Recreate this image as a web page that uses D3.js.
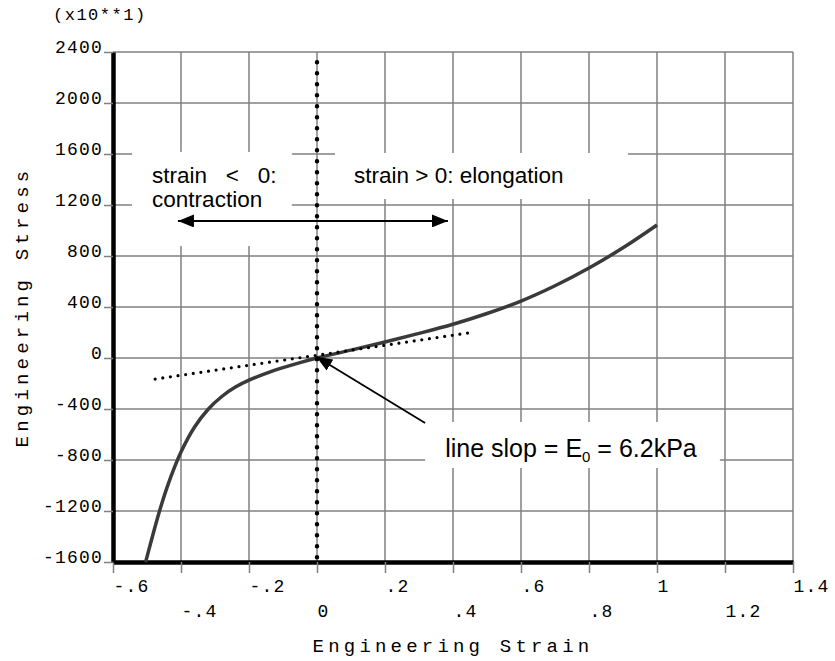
<!DOCTYPE html>
<html>
<head>
<meta charset="utf-8">
<script src="https://cdn.jsdelivr.net/npm/d3@7"></script>
<style>
body { margin: 0; background: #fff; }
</style>
</head>
<body>
<div id="chartDiv"></div>
<script>
"use strict";

// svg element parameters
var svgWidth = 835;
var svgHeight = 661;
var margin = {top: 52, right: 42, bottom: 99, left: 113};

var monoFont = "'Liberation Mono', 'Courier New', monospace";
var sansFont = "'Liberation Sans', Arial, sans-serif";

// stress-strain curve (stress in units of x10**1)
var strain = [-0.504, -0.49, -0.46, -0.43, -0.40, -0.36, -0.32, -0.28, -0.24, -0.20, -0.15, -0.10, -0.05, 0,
              0.1, 0.2, 0.3, 0.4, 0.5, 0.6, 0.7, 0.8, 0.9, 1.0];
var stress = [-1600, -1459, -1172, -933, -737, -541, -402, -302, -228, -174, -121, -76, -36, 0,
              62, 126, 193, 265, 349, 447, 567, 706, 864, 1043];

// dotted tangent at the origin (slope E0)
var tangentStrain = [-0.476, 0.444];
var tangentStress = [-165, 196];

// axis ticks
var xTicks = [-0.6, -0.4, -0.2, 0, 0.2, 0.4, 0.6, 0.8, 1.0, 1.2, 1.4];
var xTickLabels = ["-.6", "-.4", "-.2", "0", ".2", ".4", ".6", ".8", "1", "1.2", "1.4"];
var yTicks = [-1600, -1200, -800, -400, 0, 400, 800, 1200, 1600, 2000, 2400];
var yTickLabels = ["-1600", "-1200", "-800", "-400", "0", "400", "800", "1200", "1600", "2000", "2400"];

var svg, x, y;

svg = d3.select("#chartDiv").append("svg").attr("id", "chartSvg").attr("width", svgWidth).attr("height", svgHeight);

x = d3.scaleLinear().domain([-0.6, 1.4]).range([margin.left, svgWidth - margin.right]);
y = d3.scaleLinear().domain([-1600, 2400]).range([svgHeight - margin.bottom, margin.top]);

drawGrid();
drawBoxes();
drawAxes();
drawCurves();
drawArrows();
drawTexts();

function drawGrid() {
    var grid = svg.append("g").attr("class", "grid").attr("stroke", "#808080").attr("stroke-width", 1.5);

    // vertical grid lines
    grid.selectAll("line.v").data(xTicks.slice(1)).enter()
        .append("line")
        .attr("class", "v")
        .attr("x1", function (d) {return x(d);})
        .attr("x2", function (d) {return x(d);})
        .attr("y1", y(2400))
        .attr("y2", y(-1600));

    // horizontal grid lines
    grid.selectAll("line.h").data(yTicks).enter()
        .append("line")
        .attr("class", "h")
        .attr("x1", x(-0.6))
        .attr("x2", x(1.4))
        .attr("y1", function (d) {return y(d);})
        .attr("y2", function (d) {return y(d);});
}

function drawBoxes() {
    // white boxes behind the annotations hide the grid
    var boxes = [
        {x0: -0.544, x1: -0.074, y0: 1616, y1: 878},
        {x0: 0.053, x1: 0.915, y0: 1608, y1: 1247},
        {x0: 0.318, x1: 1.185, y0: -502, y1: -863}
    ];
    svg.append("g").selectAll("rect").data(boxes).enter()
        .append("rect")
        .attr("x", function (d) {return x(d.x0);})
        .attr("y", function (d) {return y(d.y0);})
        .attr("width", function (d) {return x(d.x1) - x(d.x0);})
        .attr("height", function (d) {return y(d.y1) - y(d.y0);})
        .attr("fill", "#fff");
}

function drawAxes() {
    var xAxis = d3.axisBottom(x).tickValues(xTicks).tickSizeInner(11).tickSizeOuter(0)
                  .tickFormat(function (d, i) {return xTickLabels[i];});
    var yAxis = d3.axisLeft(y).tickValues(yTicks).tickSizeInner(9).tickSizeOuter(0).tickPadding(1)
                  .tickFormat(function (d, i) {return yTickLabels[i];});

    var gx = svg.append("g").attr("transform", "translate(0," + y(-1600) + ")").call(xAxis);
    var gy = svg.append("g").attr("transform", "translate(" + x(-0.6) + ",0)").call(yAxis);

    [gx, gy].forEach(function (g) {
        g.attr("font-family", monoFont).attr("font-size", 18);
        g.select(".domain").attr("stroke", "#000").attr("stroke-width", 4.5);
        g.selectAll(".tick line").attr("stroke", "#808080").attr("stroke-width", 1.5);
        g.selectAll(".tick text").attr("fill", "#000").attr("letter-spacing", 1.2);
    });

    // x labels start at their tick and alternate between two rows
    gx.selectAll(".tick text")
        .attr("text-anchor", "start")
        .attr("x", 0)
        .attr("dy", 0)
        .attr("y", function (d, i) {return i % 2 == 0 ? 30 : 55;});

    gy.selectAll(".tick text").attr("dy", "0.05em");

    // axis titles
    svg.append("text")
        .attr("x", (x(-0.6) + x(1.4)) / 2)
        .attr("y", 652)
        .attr("text-anchor", "middle")
        .attr("font-family", monoFont)
        .attr("font-size", 19)
        .attr("letter-spacing", 4.2)
        .text("Engineering Strain");

    svg.append("text")
        .attr("transform", "translate(28," + (y(-1600) + y(2400)) / 2 + ") rotate(-90)")
        .attr("text-anchor", "middle")
        .attr("font-family", monoFont)
        .attr("font-size", 19)
        .attr("letter-spacing", 4.2)
        .text("Engineering Stress");

    svg.append("text")
        .attr("x", 53)
        .attr("y", 20)
        .attr("font-family", monoFont)
        .attr("font-size", 17)
        .attr("letter-spacing", 1.5)
        .text("(x10**1)");
}

function drawCurves() {
    var points = strain.map(function (d, i) {return [d, stress[i]];});
    var line = d3.line()
                 .x(function (d) {return x(d[0]);})
                 .y(function (d) {return y(d[1]);})
                 .curve(d3.curveCatmullRom.alpha(0.5));

    svg.append("path")
        .datum(points)
        .attr("d", line)
        .attr("fill", "none")
        .attr("stroke", "#3a3a3a")
        .attr("stroke-width", 3.5);

    // dotted tangent line
    svg.append("line")
        .attr("x1", x(tangentStrain[0]))
        .attr("y1", y(tangentStress[0]))
        .attr("x2", x(tangentStrain[1]))
        .attr("y2", y(tangentStress[1]))
        .attr("stroke", "#000")
        .attr("stroke-width", 3.2)
        .attr("stroke-linecap", "round")
        .attr("stroke-dasharray", "0 7.7");

    // dotted vertical line at strain = 0
    svg.append("line")
        .attr("x1", x(0))
        .attr("x2", x(0))
        .attr("y1", y(2320))
        .attr("y2", y(-1600))
        .attr("stroke", "#000")
        .attr("stroke-width", 4.5)
        .attr("stroke-linecap", "round")
        .attr("stroke-dasharray", "0 11");
}

function drawArrows() {
    svg.append("defs").append("marker")
        .attr("id", "arrowHead")
        .attr("viewBox", "0 0 16 13")
        .attr("markerUnits", "userSpaceOnUse")
        .attr("markerWidth", 16)
        .attr("markerHeight", 13)
        .attr("refX", 16)
        .attr("refY", 6.5)
        .attr("orient", "auto-start-reverse")
        .append("path")
        .attr("d", "M0,0L16,6.5L0,13Z")
        .attr("fill", "#000");

    // contraction / elongation arrow
    svg.append("line")
        .attr("x1", x(-0.409))
        .attr("x2", x(0.385))
        .attr("y1", y(1075))
        .attr("y2", y(1075))
        .attr("stroke", "#000")
        .attr("stroke-width", 2)
        .attr("marker-start", "url(#arrowHead)")
        .attr("marker-end", "url(#arrowHead)");

    // pointer to the origin
    svg.append("line")
        .attr("x1", x(0.318))
        .attr("y1", y(-510))
        .attr("x2", x(-0.002))
        .attr("y2", y(10))
        .attr("stroke", "#000")
        .attr("stroke-width", 1.8)
        .attr("marker-end", "url(#arrowHead)");
}

function drawTexts() {
    var g = svg.append("g").attr("font-family", sansFont).attr("fill", "#000");

    g.append("text")
        .attr("x", x(-0.485))
        .attr("y", y(1372))
        .attr("font-size", 22.5)
        .text("strain\u00a0\u00a0\u00a0<\u00a0\u00a0\u00a00:");

    g.append("text")
        .attr("x", x(-0.485))
        .attr("y", y(1184))
        .attr("font-size", 22.5)
        .text("contraction");

    g.append("text")
        .attr("x", x(0.109))
        .attr("y", y(1372))
        .attr("font-size", 22.5)
        .text("strain > 0: elongation");

    var slope = g.append("text")
        .attr("x", x(0.377))
        .attr("y", y(-776))
        .attr("font-size", 25);
    slope.append("tspan").text("line slop = E");
    slope.append("tspan").attr("font-size", 15).attr("dy", 5).text("0");
    slope.append("tspan").attr("dy", -5).text(" = 6.2kPa");
}
</script>
</body>
</html>
